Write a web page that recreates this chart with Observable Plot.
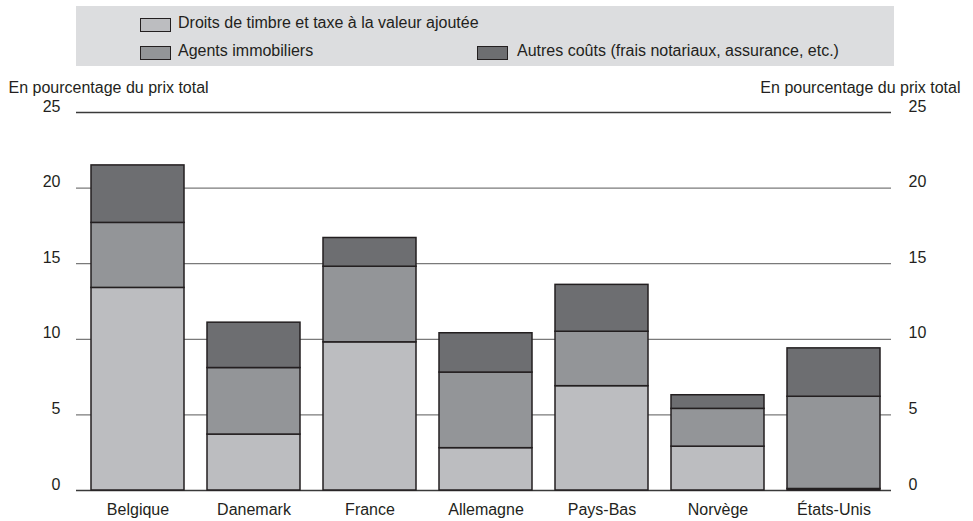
<!DOCTYPE html>
<html>
<head>
<meta charset="utf-8">
<script src="https://cdn.jsdelivr.net/npm/d3@7"></script>
<script src="https://cdn.jsdelivr.net/npm/@observablehq/plot@0.6"></script>
<style>
  body { margin: 0; background: #fff; }
  #wrap { position: relative; width: 973px; height: 521px; background: #fff; font-family: "Liberation Sans", Arial, sans-serif; color: #231f20; }
  #legend { position: absolute; left: 76px; top: 6px; width: 818px; height: 60px; background: #dcdddf; }
  .sw { position: absolute; width: 29px; height: 12px; border: 1px solid #231f20; }
  .lt { position: absolute; font-size: 16px; line-height: 18px; white-space: nowrap; }
  #chart { position: absolute; left: 0; top: 70px; }
</style>
</head>
<body>
<div id="wrap">
  <div id="legend"></div>
  <div id="chart"></div>
</div>
<script>
const countries = ["Belgique", "Danemark", "France", "Allemagne", "Pays-Bas", "Norvège", "États-Unis"];
const seriesNames = [
  "Droits de timbre et taxe à la valeur ajoutée",
  "Agents immobiliers",
  "Autres coûts (frais notariaux, assurance, etc.)"
];
const droits = [13.4, 3.7, 9.8, 2.8, 6.9, 2.9, 0.1];
const agents = [4.3, 4.4, 5.0, 5.0, 3.6, 2.5, 6.1];
const autres = [3.8, 3.0, 1.9, 2.6, 3.1, 0.9, 3.2];
const colors = ["#bcbdc0", "#939598", "#6d6e71"];
const yTicks = [0, 5, 10, 15, 20, 25];
const axisTitle = "En pourcentage du prix total";

const seriesValues = [droits, agents, autres];
const data = [];
seriesNames.forEach((s, i) => {
  countries.forEach((c, j) => data.push({country: c, series: s, value: seriesValues[i][j]}));
});

// Legend (HTML)
const legend = document.getElementById("legend");
const legendPos = [
  {sx: 64, sy: 12, tx: 102, ty: 8},
  {sx: 64, sy: 40, tx: 102, ty: 36},
  {sx: 401, sy: 40, tx: 441, ty: 36}
];
seriesNames.forEach((s, i) => {
  const p = legendPos[i];
  const sw = document.createElement("div");
  sw.className = "sw";
  sw.style.left = p.sx + "px";
  sw.style.top = p.sy + "px";
  sw.style.background = colors[i];
  legend.appendChild(sw);
  const t = document.createElement("div");
  t.className = "lt";
  t.style.left = p.tx + "px";
  t.style.top = p.ty + "px";
  t.textContent = s;
  legend.appendChild(t);
});

const chart = Plot.plot({
  width: 973,
  height: 451,
  marginLeft: 76,
  marginRight: 82,
  marginTop: 42,
  marginBottom: 31,
  style: {fontFamily: "'Liberation Sans', Arial, sans-serif", fontSize: "16px", color: "#231f20", background: "#fff", overflow: "visible"},
  x: {domain: countries, paddingInner: 0.2, paddingOuter: 0, insetLeft: 12, insetRight: 9, label: null},
  y: {domain: [0, 25], label: null},
  color: {domain: seriesNames, range: colors},
  marks: [
    Plot.ruleY([5, 10, 15, 20], {stroke: "#7a7a7a", strokeWidth: 1.2}),
    Plot.ruleY([0, 25], {stroke: "#3a3a3a", strokeWidth: 1.4}),
    Plot.barY(data, {x: "country", y: "value", fill: "series", order: seriesNames, stroke: "#231f20", strokeWidth: 1.5}),
    Plot.axisY({anchor: "left", ticks: yTicks, tickSize: 0, tickPadding: 16, dy: -6, fontSize: 16, label: null}),
    Plot.axisY({anchor: "right", ticks: yTicks, tickSize: 0, tickPadding: 17, dy: -6, fontSize: 16, label: null}),
    Plot.axisX({tickSize: 0, tickPadding: 13, fontSize: 16, label: null}),
    Plot.text([axisTitle], {text: d => d, frameAnchor: "top-left", dx: -68, dy: -31, textAnchor: "start", fontSize: 16}),
    Plot.text([axisTitle], {text: d => d, frameAnchor: "top-right", dx: 69, dy: -31, textAnchor: "end", fontSize: 16})
  ]
});
document.getElementById("chart").appendChild(chart);
</script>
</body>
</html>
